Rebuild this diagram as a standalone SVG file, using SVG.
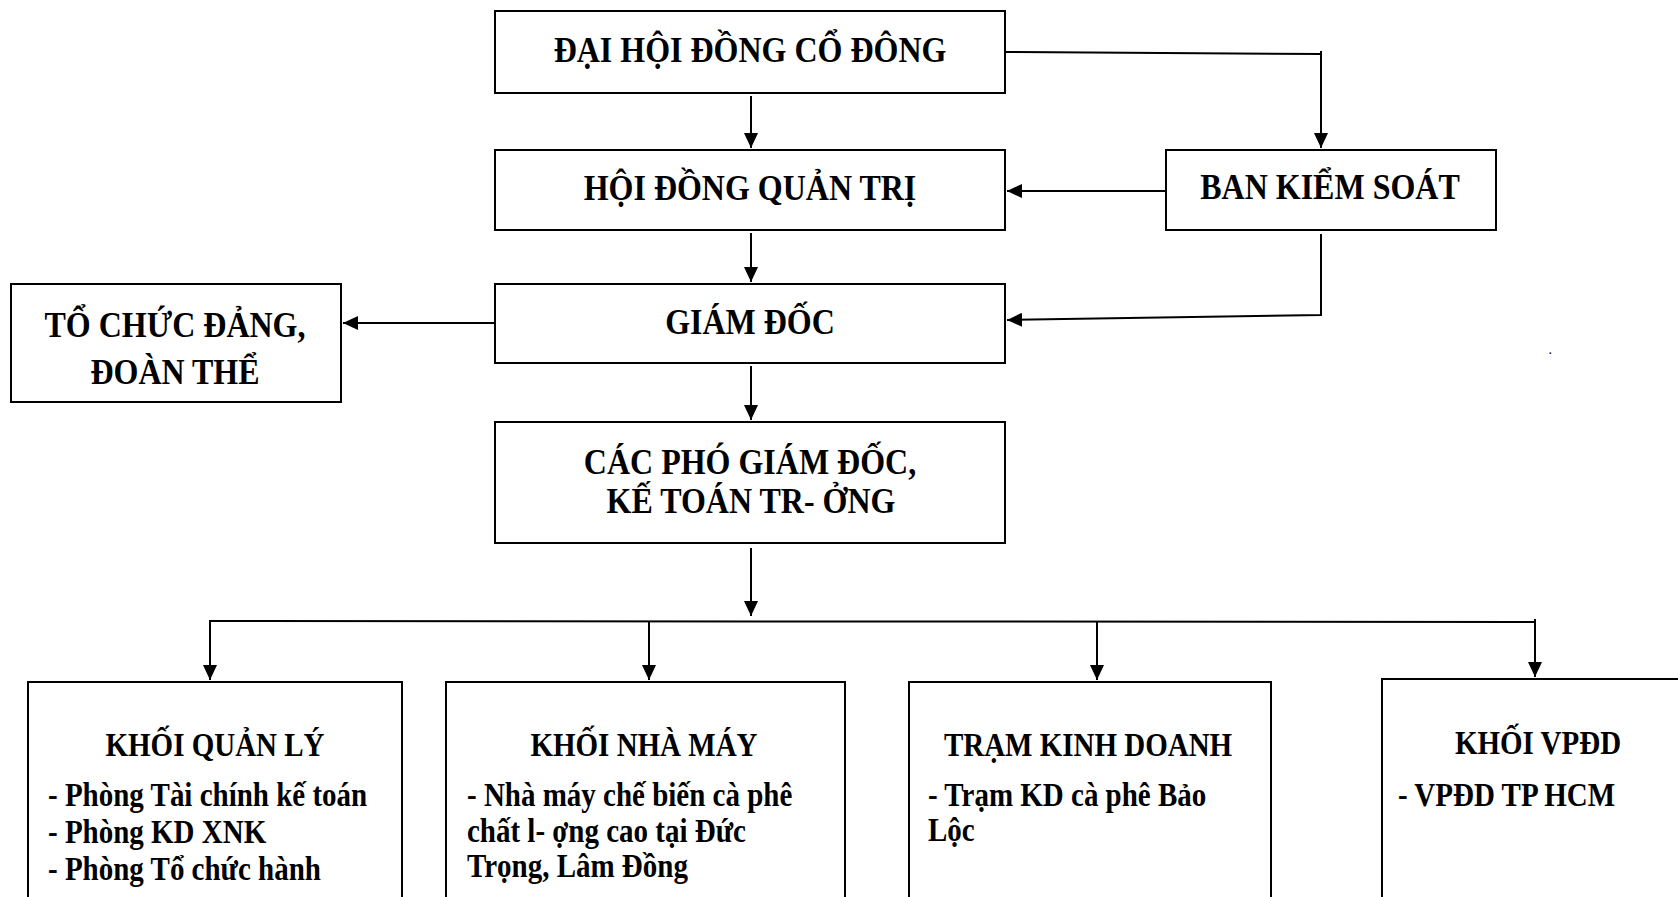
<svg xmlns="http://www.w3.org/2000/svg" width="1678" height="897" viewBox="0 0 1678 897">
<style>
.box{fill:#fff;stroke:#000;stroke-width:2}
.t{font-family:"Liberation Serif","Times New Roman",serif;font-weight:bold;fill:#000}
.h{font-size:32px}
.b{font-size:29px}
.c{text-anchor:middle}
.ln{fill:none;stroke:#000;stroke-width:2}
</style>
<defs>
<marker id="ah" markerUnits="userSpaceOnUse" markerWidth="16" markerHeight="14" refX="15" refY="7" orient="auto">
<path d="M0,0 L15,7 L0,14 Z" fill="#000"/>
</marker>
</defs>
<rect width="1678" height="897" fill="#fff"/>

<g id="n-dhdcd">
<rect class="box" x="495" y="11" width="510" height="82"/>
<text class="t h c" transform="translate(750,62) scale(1,1.14)">ĐẠI HỘI ĐỒNG CỔ ĐÔNG</text>
</g>
<g id="n-hdqt">
<rect class="box" x="495" y="150" width="510" height="80"/>
<text class="t h c" transform="translate(750,200) scale(1,1.14)">HỘI ĐỒNG QUẢN TRỊ</text>
</g>
<g id="n-bks">
<rect class="box" x="1166" y="150" width="330" height="80"/>
<text class="t h c" transform="translate(1330,199) scale(1,1.14)">BAN KIỂM SOÁT</text>
</g>
<g id="n-gd">
<rect class="box" x="495" y="284" width="510" height="79"/>
<text class="t h c" transform="translate(750,334) scale(1,1.14)">GIÁM ĐỐC</text>
</g>
<g id="n-tcd">
<rect class="box" x="11" y="284" width="330" height="118"/>
<text class="t h c" transform="translate(175,337) scale(1,1.14)">TỔ CHỨC ĐẢNG,</text>
<text class="t h c" transform="translate(175,384) scale(1,1.14)">ĐOÀN THỂ</text>
</g>
<g id="n-cpgd">
<rect class="box" x="495" y="422" width="510" height="121"/>
<text class="t h c" transform="translate(750,474) scale(1,1.14)">CÁC PHÓ GIÁM ĐỐC,</text>
<text class="t h c" transform="translate(751,513) scale(1,1.14)">KẾ TOÁN TR- ỞNG</text>
</g>
<g id="n-kql">
<rect class="box" x="28" y="682" width="374" height="230"/>
<text class="t b c" transform="translate(215,756) scale(1,1.14)">KHỐI QUẢN LÝ</text>
<text class="t b" transform="translate(48,806) scale(1,1.14)">- Phòng Tài chính kế toán</text>
<text class="t b" transform="translate(48,843) scale(1,1.14)">- Phòng KD XNK</text>
<text class="t b" transform="translate(48,880) scale(1,1.14)">- Phòng Tổ chức hành</text>
</g>
<g id="n-knm">
<rect class="box" x="446" y="682" width="399" height="230"/>
<text class="t b c" transform="translate(644,756) scale(1,1.14)">KHỐI NHÀ MÁY</text>
<text class="t b" transform="translate(467,806) scale(1,1.14)">- Nhà máy chế biến cà phê</text>
<text class="t b" transform="translate(467,842) scale(1,1.14)">chất l- ợng cao tại Đức</text>
<text class="t b" transform="translate(467,877) scale(1,1.14)">Trọng, Lâm Đồng</text>
</g>
<g id="n-tkd">
<rect class="box" x="909" y="682" width="362" height="230"/>
<text class="t b c" transform="translate(1088,756) scale(1,1.14)">TRẠM KINH DOANH</text>
<text class="t b" transform="translate(928,806) scale(1,1.14)">- Trạm KD cà phê Bảo</text>
<text class="t b" transform="translate(928,841) scale(1,1.14)">Lộc</text>
</g>
<g id="n-vpdd">
<rect class="box" x="1382" y="679" width="320" height="233"/>
<text class="t b c" transform="translate(1538,754) scale(1,1.14)">KHỐI VPĐD</text>
<text class="t b" transform="translate(1398,806) scale(1,1.14)">- VPĐD TP HCM</text>
</g>
<text class="t" x="1549" y="354" font-size="10">.</text>

<g id="connectors">
<path class="ln" d="M751,96 L751,148" marker-end="url(#ah)"/>
<path class="ln" d="M751,233 L751,282" marker-end="url(#ah)"/>
<path class="ln" d="M751,366 L751,420" marker-end="url(#ah)"/>
<path class="ln" d="M1005,52 L1322,54"/>
<path class="ln" d="M1321,51 L1321,148" marker-end="url(#ah)"/>
<path class="ln" d="M1166,191 L1007,191" marker-end="url(#ah)"/>
<path class="ln" d="M1321,234 L1321,315 L1007,320" marker-end="url(#ah)"/>
<path class="ln" d="M495,323 L343,323" marker-end="url(#ah)"/>
<path class="ln" d="M751,548 L751,616" marker-end="url(#ah)"/>
<path class="ln" d="M210,679 L210,621 L1535,622"/>
<path class="ln" d="M1535,619 L1535,677" marker-end="url(#ah)"/>
<path class="ln" d="M649,621 L649,680" marker-end="url(#ah)"/>
<path class="ln" d="M1097,621 L1097,680" marker-end="url(#ah)"/>
<path class="ln" d="M210,621 L210,680" marker-end="url(#ah)"/>
</g>
</svg>
